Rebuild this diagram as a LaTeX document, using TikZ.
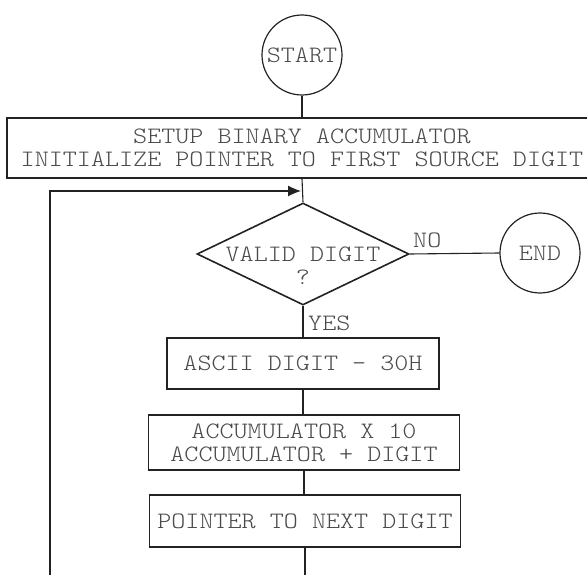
\documentclass[tikz,border=0pt]{standalone}
\usepackage{fontspec}
\usetikzlibrary{shapes.geometric,arrows.meta}
\newfontfamily\flowfont[FakeStretch=1.14]{lmmonolt10-regular.otf}
\definecolor{inkline}{HTML}{222222}
\definecolor{inktext}{HTML}{4a4a4a}
\begin{document}
\begin{tikzpicture}[x=1pt,y=-1pt,
  txt/.style={text=inktext,font=\flowfont\fontsize{23.5}{23}\selectfont,align=center,inner sep=0pt},
  procbox/.style={draw=inkline,line width=1.8pt,rectangle,inner sep=0pt,txt},
  terminal/.style={draw=inkline,line width=1.2pt,circle,minimum size=80pt,inner sep=0pt,txt},
  decision/.style={draw=inkline,line width=1.6pt,diamond,inner sep=0pt,minimum width=212pt,minimum height=102pt},
  flow/.style={draw=inkline,line width=1.1pt}]
  \useasboundingbox (0,0) rectangle (587,575);
  \clip (0,0) rectangle (587,575);

  % terminals
  \node[terminal] (start) at (302,55) {START};
  \node[terminal] (stop) at (540,253) {END};

  % initialisation box (runs past the right edge)
  \node[procbox,minimum width=590pt,minimum height=60pt] (setup) at (302,148)
    {SETUP BINARY ACCUMULATOR\\INITIALIZE POINTER TO FIRST SOURCE DIGIT};

  % decision
  \node[decision] (valid) at (303,254) {};
  \node[txt,anchor=north] (validtext) at (303,247) {VALID DIGIT\\?};

  % processing steps
  \node[procbox,minimum width=272pt,minimum height=51pt] (ascii) at (303,363.5) {ASCII DIGIT - 30H};
  \node[procbox,minimum width=311pt,minimum height=55pt] (accum) at (304,442.5)
    {ACCUMULATOR X 10\\ACCUMULATOR + DIGIT};
  \node[procbox,minimum width=311pt,minimum height=52pt] (nextptr) at (305,521) {POINTER TO NEXT DIGIT};

  % branch labels
  \node[txt,anchor=south west] (nolabel) at (413,248) {NO};
  \node[txt,anchor=west] (yeslabel) at (308,323) {YES};

  % connectors
  \coordinate (join) at (302,191);
  \coordinate (loopbottom) at (50,575);
  \coordinate (tailbottom) at (305,575);
  \draw[flow] (start) -- (setup.north -| start);
  \draw[flow] (setup.south -| start) -- (valid.north);
  \draw[flow] (valid.east) -- (stop.west);
  \draw[flow] (valid.south) -- (ascii.north -| valid.south);
  \draw[flow] (ascii.south) -- (accum.north -| ascii.south);
  \draw[flow] (accum.south) -- (nextptr.north -| accum.south);
  \draw[flow] (nextptr.south) -- (tailbottom);
  \draw[flow,-{Latex[length=13pt,width=11pt]},shorten >=1pt] (loopbottom) |- (join);
\end{tikzpicture}
\end{document}
